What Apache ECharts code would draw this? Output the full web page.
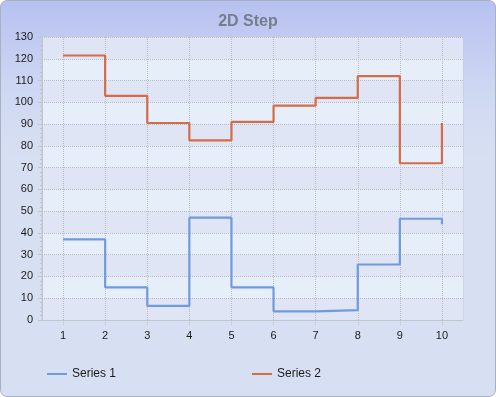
<!DOCTYPE html>
<html>
<head>
<meta charset="utf-8">
<script src="https://cdn.jsdelivr.net/npm/echarts@6/dist/echarts.min.js"></script>
<style>
  html, body { margin: 0; padding: 0; background: #ffffff; }
  #wrap {
    position: absolute; left: 0; top: 0; width: 494px; height: 395px;
    border: 1px solid #a9b0bf; border-radius: 7px;
    background: linear-gradient(to bottom, #b7c1f0 0px, #cfd8f2 90px, #d7e0f2 160px, #d7e0f2 100%);
  }
  #main { position: absolute; left: 0; top: 0; width: 496px; height: 397px; }
</style>
</head>
<body>
<div id="wrap"></div>
<div id="main"></div>
<script>
var xValues  = [1, 2, 3, 4, 5, 6, 7, 8, 9, 10];
var series1  = [37, 15, 6.5, 47, 15, 4, 4.5, 25.5, 46.5, 44];
var series2  = [121.5, 103, 90.5, 82.5, 91, 98.5, 102, 112, 72, 90.5];

function pairs(vals){
    var out = [];
    for (var i = 0; i < vals.length; i++) out.push([xValues[i], vals[i]]);
    return out;
}

var myChart = echarts.init(document.getElementById('main'));
var option = {
    backgroundColor: 'transparent',
    title: {
        text: '2D Step',
        left: 'center',
        top: 9,
        textStyle: { fontFamily: 'Liberation Sans', fontSize: 16, fontWeight: 'bold', color: '#747e8c' }
    },
    legend: {
        bottom: 12,
        left: 42,
        itemGap: 136,
        itemWidth: 20,
        itemHeight: 2,
        icon: 'rect',
        textStyle: { fontFamily: 'Liberation Sans', fontSize: 12, color: '#1a1a1a' },
        data: ['Series 1', 'Series 2']
    },
    grid: {
        left: 42, right: 33, top: 37, bottom: 77,
        show: true,
        borderColor: '#c6cad3',
        borderWidth: 1,
        backgroundColor: '#e3eaf7'
    },
    xAxis: {
        type: 'value',
        min: 0.5,
        max: 10.5,
        axisLine: { show: true, lineStyle: { color: '#c0c4cc' } },
        axisTick: { show: true, customValues: xValues, length: 5, lineStyle: { color: '#b8bcc4', type: 'dotted' } },
        axisLabel: { customValues: xValues, margin: 10, fontFamily: 'Liberation Sans', fontSize: 11, color: '#1a1a1a' },
        splitLine: { show: true, lineStyle: { color: '#b8bcc4', type: 'dotted' } }
    },
    yAxis: {
        type: 'value',
        min: 0,
        max: 130,
        interval: 10,
        axisLine: { show: true, lineStyle: { color: '#c0c4cc' } },
        axisTick: { show: true, length: 4, lineStyle: { color: '#c0c4cc' } },
        minorTick: { show: true, splitNumber: 5, length: 2, lineStyle: { color: '#c0c4cc' } },
        axisLabel: { margin: 9, fontFamily: 'Liberation Sans', fontSize: 11, color: '#1a1a1a' },
        splitLine: { show: true, lineStyle: { color: '#b8bcc4', type: 'dotted' } },
        splitArea: { show: true, areaStyle: { color: ['#dfe5f5', '#e6eff9'] } }
    },
    series: [
        {
            name: 'Series 1',
            type: 'line',
            step: 'end',
            symbol: 'none',
            color: '#6f9bdc',
            lineStyle: { width: 2.2, color: '#6f9bdc' },
            data: pairs(series1)
        },
        {
            name: 'Series 2',
            type: 'line',
            step: 'end',
            symbol: 'none',
            color: '#d66b48',
            lineStyle: { width: 2.2, color: '#d66b48' },
            data: pairs(series2)
        }
    ]
};
myChart.setOption(option);
</script>
</body>
</html>
